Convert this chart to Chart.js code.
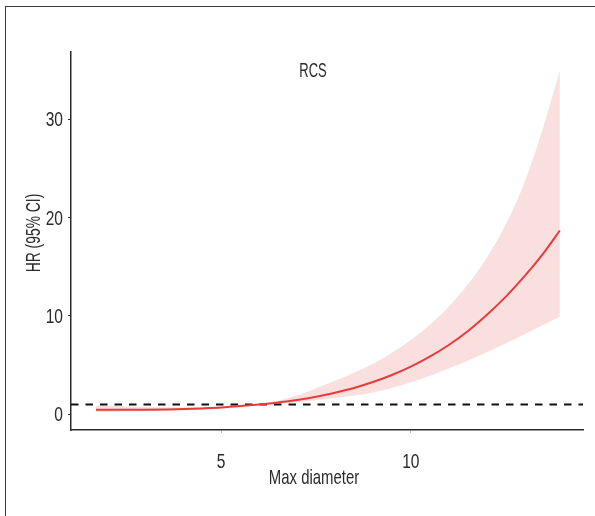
<!DOCTYPE html>
<html>
<head>
<meta charset="utf-8">
<script src="https://cdn.jsdelivr.net/npm/chart.js@4"></script>
<style>
  html, body { margin: 0; padding: 0; background: #fff; overflow: hidden; }
  #wrap { position: relative; width: 595px; height: 516px; }
  #frame { position: absolute; left: 5px; top: 6px; width: 600px; height: 520px;
           border-top: 1px solid #3c3c3c; border-left: 1px solid #3c3c3c; }
  canvas { position: absolute; left: 0; top: 0; }
</style>
</head>
<body>
<div id="wrap">
  <div id="frame"></div>
  <canvas id="rcsChart" width="595" height="516"></canvas>
</div>
<script>
// restricted cubic spline: HR by max diameter
const diameter = [1.7, 2, 2.5, 3, 3.5, 4, 4.5, 5, 5.5, 6, 6.5, 7, 7.5, 8, 8.5, 9, 9.5, 10, 10.5, 11, 11.5, 12, 12.5, 13, 13.5, 13.93];
const hr    = [0.45, 0.45, 0.45, 0.46, 0.49, 0.53, 0.6, 0.69, 0.83, 1.0, 1.2, 1.45, 1.78, 2.2, 2.68, 3.28, 4.0, 4.85, 5.86, 7.05, 8.45, 10.1, 11.95, 14.05, 16.4, 18.7];
const upper = [0.9, 0.86, 0.8, 0.75, 0.72, 0.7, 0.71, 0.76, 0.87, 1.06, 1.38, 1.9, 2.65, 3.4, 4.22, 5.15, 6.25, 7.55, 9.1, 10.95, 13.2, 15.9, 19.3, 23.6, 29.3, 35.0];
const lower = [0.22, 0.24, 0.27, 0.3, 0.34, 0.38, 0.48, 0.6, 0.78, 0.96, 1.08, 1.22, 1.42, 1.65, 1.9, 2.22, 2.68, 3.25, 3.9, 4.65, 5.45, 6.3, 7.2, 8.15, 9.1, 9.93];
const refHR = 1;

const xTicks = [5, 10];
const yTicks = [0, 10, 20, 30];

const X_MIN = 1.04, X_MAX = 14.54;
const Y_MIN = -1.6, Y_MAX = 36.86;

const plotTitle = "RCS";
const xTitle = "Max diameter";
const yTitle = "HR (95% CI)";

const FONT = "21px 'Liberation Sans', Arial, sans-serif";
const INK = "#2b2b2b";

const pts = (ys) => diameter.map((d, i) => ({ x: d, y: ys[i] }));

// the original uses a condensed face, so squeeze the text horizontally
function condensed(ctx, text, x, y, sx, align) {
  ctx.save();
  ctx.translate(x, y);
  ctx.scale(sx, 1);
  ctx.textAlign = align || "center";
  ctx.fillText(text, 0, 0);
  ctx.restore();
}

const panelText = {
  id: "panelText",
  afterDraw(chart) {
    const ctx = chart.ctx;
    const xs = chart.scales.x, ys = chart.scales.y;
    ctx.save();
    ctx.fillStyle = INK;
    ctx.font = FONT;
    ctx.textBaseline = "middle";

    xTicks.forEach((v) => condensed(ctx, String(v), xs.getPixelForValue(v), 462, 0.74));
    yTicks.forEach((v) => condensed(ctx, String(v), 63, ys.getPixelForValue(v) + 1, 0.74, "right"));

    condensed(ctx, plotTitle, 313, 71, 0.62);
    condensed(ctx, xTitle, 314, 478, 0.71);

    ctx.translate(34, 233);
    ctx.rotate(-Math.PI / 2);
    condensed(ctx, yTitle, 0, 0, 0.66);
    ctx.restore();
  },
};

function initChart() {
  const ctx = document.getElementById("rcsChart").getContext("2d");
  new Chart(ctx, {
    type: "line",
    data: {
      datasets: [
        {
          label: "HR",
          data: pts(hr),
          borderColor: "#e93b3b",
          borderWidth: 2,
          pointRadius: 0,
          fill: false,
          cubicInterpolationMode: "monotone",
          order: 0,
        },
        {
          label: "HR = 1",
          data: [{ x: X_MIN, y: refHR }, { x: X_MAX, y: refHR }],
          borderColor: "#111",
          borderWidth: 2,
          borderDash: [7.5, 7],
          pointRadius: 0,
          fill: false,
          order: 1,
        },
        {
          label: "upper",
          data: pts(upper),
          borderWidth: 0,
          borderColor: "rgba(0,0,0,0)",
          backgroundColor: "#fadfdf",
          pointRadius: 0,
          fill: 3,
          cubicInterpolationMode: "monotone",
          order: 2,
        },
        {
          label: "lower",
          data: pts(lower),
          borderWidth: 0,
          borderColor: "rgba(0,0,0,0)",
          pointRadius: 0,
          fill: false,
          cubicInterpolationMode: "monotone",
          order: 3,
        },
      ],
    },
    options: {
      responsive: false,
      animation: false,
      layout: { padding: { left: 0, top: 52, right: 12, bottom: 0 } },
      plugins: {
        legend: { display: false },
        tooltip: { enabled: false },
      },
      scales: {
        x: {
          type: "linear",
          min: X_MIN,
          max: X_MAX,
          afterFit: (s) => { s.height = 86; },
          afterBuildTicks: (s) => { s.ticks = xTicks.map((v) => ({ value: v })); },
          ticks: { display: false },
          grid: { drawOnChartArea: false, tickLength: 3, color: "#bbb" },
          border: { color: INK, width: 1.5 },
        },
        y: {
          type: "linear",
          min: Y_MIN,
          max: Y_MAX,
          afterFit: (s) => { s.width = 71; },
          afterBuildTicks: (s) => { s.ticks = yTicks.map((v) => ({ value: v })); },
          ticks: { display: false },
          grid: { drawOnChartArea: false, tickLength: 3, color: INK },
          border: { color: INK, width: 1.5 },
        },
      },
    },
    plugins: [panelText],
  });
}

initChart();
</script>
</body>
</html>
